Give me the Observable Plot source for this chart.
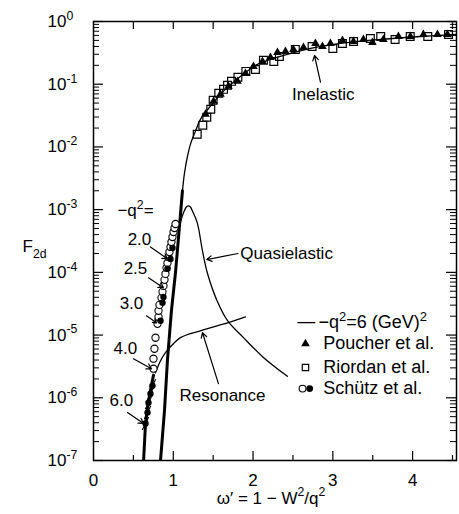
<!DOCTYPE html>
<html><head><meta charset="utf-8">
<script src="https://cdn.jsdelivr.net/npm/d3@7"></script>
<script src="https://cdn.jsdelivr.net/npm/@observablehq/plot@0.6"></script>
<style>
html,body{margin:0;padding:0;background:#fff;}
</style></head>
<body><div id="chart"></div>
<script>
// ---- axis ticks ----
const xMajor = [0, 1, 2, 3, 4];
const xMinor = [0.5, 1.5, 2.5, 3.5, 4.5];
const yMajor = [1e-7, 1e-6, 1e-5, 1e-4, 1e-3, 1e-2, 1e-1, 1];
const yTickLabels = ["10^{-7}", "10^{-6}", "10^{-5}", "10^{-4}", "10^{-3}", "10^{-2}", "10^{-1}", "10^{0}"];
const yMinor = d3.range(-7, 0).flatMap(e => d3.range(2, 10).map(m => m * Math.pow(10, e)));

// ---- theory curves (omega', F2d) ----
const totalCurve = [
  [0.840, 1.0e-7], [0.890, 6.3e-7], [0.927, 4.0e-6], [0.977, 2.45e-5], [1.028, 1.0e-4],
  [1.065, 3.5e-4], [1.115, 2.0e-3], [1.140, 3.8e-3], [1.178, 7.1e-3], [1.215, 0.011],
  [1.278, 0.0178], [1.340, 0.0275], [1.466, 0.0447], [1.630, 0.0776], [1.840, 0.133],
  [2.055, 0.207], [2.340, 0.277], [2.720, 0.372], [3.095, 0.447], [3.600, 0.518],
  [4.100, 0.577], [4.550, 0.621]
];
const quasiCurve = [
  [1.085, 6.0e-4], [1.128, 8.9e-4], [1.165, 1.1e-3], [1.190, 1.15e-3], [1.215, 1.1e-3],
  [1.240, 9.5e-4], [1.300, 6.2e-4], [1.366, 2.2e-4], [1.430, 9.5e-5], [1.550, 3.5e-5],
  [1.680, 1.7e-5], [1.880, 9.1e-6], [2.130, 4.4e-6], [2.430, 2.2e-6]
];
const resonanceCurve = [
  [0.777, 2.5e-6], [0.840, 3.9e-6], [0.900, 5.2e-6], [0.965, 6.5e-6], [1.090, 9.1e-6],
  [1.340, 1.17e-5], [1.720, 1.62e-5], [1.905, 1.95e-5]
];
const q6Curve = [
  [0.628, 1.0e-7], [0.652, 3.9e-7], [0.690, 8.9e-7], [0.714, 1.3e-6], [0.752, 2.3e-6]
];

// ---- data points ----
const poucher = [
  [1.404, 0.0332], [1.504, 0.0533], [1.591, 0.0690], [1.692, 0.0925], [1.805, 0.111],
  [1.905, 0.149], [2.005, 0.192], [2.118, 0.231], [2.218, 0.267], [2.306, 0.321],
  [2.406, 0.333], [2.506, 0.359], [2.632, 0.386], [2.782, 0.447], [2.870, 0.400],
  [2.970, 0.447], [3.120, 0.499], [3.258, 0.481], [3.383, 0.517], [3.496, 0.463],
  [3.634, 0.517], [3.822, 0.577], [3.972, 0.577], [4.135, 0.621], [4.311, 0.621], [4.436, 0.621]
];
const riordan = [
  [1.30, 0.0159], [1.37, 0.0222], [1.42, 0.0297], [1.47, 0.0398], [1.50, 0.0553],
  [1.57, 0.0716], [1.63, 0.0828], [1.68, 0.0959], [1.73, 0.111], [1.81, 0.129],
  [1.91, 0.160], [2.03, 0.172], [2.13, 0.240], [2.26, 0.231], [2.33, 0.277],
  [2.53, 0.359], [2.74, 0.400], [3.00, 0.372], [3.12, 0.447], [3.26, 0.481],
  [3.47, 0.537], [3.60, 0.577], [3.78, 0.517], [3.97, 0.577], [4.19, 0.577], [4.45, 0.621]
];
const schutzOpen = [
  [0.802, 1.51e-5], [0.815, 1.95e-5], [0.815, 2.44e-5], [0.827, 3.03e-5], [0.852, 3.92e-5],
  [0.865, 4.89e-5], [0.877, 6.08e-5], [0.890, 7.59e-5], [0.902, 9.44e-5], [0.915, 1.18e-4],
  [0.927, 1.41e-4], [0.940, 1.76e-4], [0.952, 2.11e-4], [0.965, 2.54e-4], [0.977, 3.05e-4],
  [0.990, 3.66e-4], [1.003, 4.40e-4], [1.015, 5.09e-4], [1.028, 5.90e-4],
  [0.777, 9.06e-6], [0.764, 6.05e-6], [0.752, 4.20e-6], [0.752, 2.91e-6]
];
const schutzFilled = [
  [0.840, 1.69e-5], [0.865, 3.27e-5], [0.877, 4.06e-5], [0.927, 1.14e-4],
  [0.965, 1.64e-4], [0.990, 2.45e-4]
];
const schutzFilled6 = [
  [0.652, 3.88e-7], [0.677, 5.81e-7], [0.689, 8.37e-7], [0.714, 1.16e-6], [0.739, 1.56e-6]
];

// ---- annotations ----
const annoText = [
  {label: "Inelastic", x: 2.88, y: 0.069, anchor: "middle"},
  {label: "Quasielastic", x: 1.84, y: 1.96e-4, anchor: "start"},
  {label: "Resonance", x: 1.617, y: 1.08e-6, anchor: "middle"},
  {label: "−q^{2}=", x: 0.30, y: 9.5e-4, anchor: "start"},
  {label: "2.0", x: 0.576, y: 3.34e-4, anchor: "middle"},
  {label: "2.5", x: 0.526, y: 1.13e-4, anchor: "middle"},
  {label: "3.0", x: 0.476, y: 3.15e-5, anchor: "middle"},
  {label: "4.0", x: 0.400, y: 6.05e-6, anchor: "middle"},
  {label: "6.0", x: 0.350, y: 9.0e-7, anchor: "middle"}
];
const annoArrows = [
  {x1: 2.845, y1: 0.108, x2: 2.77, y2: 0.287},
  {x1: 1.81, y1: 2.0e-4, x2: 1.42, y2: 1.6e-4},
  {x1: 1.566, y1: 1.68e-6, x2: 1.366, y2: 1.09e-5},
  {x1: 0.714, y1: 2.54e-4, x2: 0.927, y2: 1.64e-4},
  {x1: 0.689, y1: 8.2e-5, x2: 0.877, y2: 5.66e-5},
  {x1: 0.664, y1: 2.03e-5, x2: 0.79, y2: 1.57e-5},
  {x1: 0.50, y1: 4.2e-6, x2: 0.727, y2: 2.9e-6},
  {x1: 0.426, y1: 5.8e-7, x2: 0.627, y2: 3.9e-7}
];

// ---- legend ----
const legendLabels = ["−q^{2}=6 (GeV)^{2}", "Poucher et al.", "Riordan et al.", "Schütz et al."];
const legendY = [1.58e-5, 7.3e-6, 3.04e-6, 1.4e-6];
const legendTextX = [2.82, 2.88, 2.88, 2.88];
const legendLine = [{x1: 2.556, x2: 2.78, y: 1.58e-5}];
const legendTriangle = [[2.657, 7.3e-6]];
const legendSquare = [[2.657, 3.04e-6]];
const legendOpen = [[2.62, 1.4e-6]];
const legendFilled = [[2.71, 1.4e-6]];

// ---- layout ----
const W = 459, H = 514, mL = 93, mR = 3, mT = 21, mB = 54;
const pw = W - mL - mR, ph = H - mT - mB;
const K = "black";
const slash = {draw(ctx, size) { const r = Math.sqrt(size / Math.PI); ctx.moveTo(-0.5 * r, r); ctx.lineTo(0.5 * r, -r); }};

const plot = Plot.plot({
  width: W, height: H,
  marginLeft: mL, marginRight: mR, marginTop: mT, marginBottom: mB,
  x: {domain: [0, 4.55]},
  y: {type: "log", domain: [1e-7, 1]},
  style: {fontFamily: "'Liberation Sans', Arial, sans-serif", fontSize: "17px", color: K, background: "white"},
  marks: [
    // ticks (inward)
    Plot.tickY(yMajor, {y: d => d, insetRight: pw - 10, stroke: K, strokeWidth: 1.2}),
    Plot.tickY(yMajor, {y: d => d, insetLeft: pw - 10, stroke: K, strokeWidth: 1.2}),
    Plot.tickY(yMinor, {y: d => d, insetRight: pw - 6, stroke: K, strokeWidth: 1}),
    Plot.tickY(yMinor, {y: d => d, insetLeft: pw - 6, stroke: K, strokeWidth: 1}),
    Plot.tickX(xMajor.slice(1), {x: d => d, insetTop: ph - 9, stroke: K, strokeWidth: 1.2}),
    Plot.tickX(xMinor, {x: d => d, insetTop: ph - 5, stroke: K, strokeWidth: 1.2}),
    Plot.tickX([...xMajor.slice(1), ...xMinor], {x: d => d, insetBottom: ph - 8, stroke: K, strokeWidth: 1.2}),
    Plot.axisY(yMajor, {anchor: "left", tickSize: 0, tickPadding: 46, textAnchor: "start", tickFormat: d => yTickLabels[yMajor.indexOf(d)], label: null, fontSize: 17}),
    Plot.axisX(xMajor, {anchor: "bottom", tickSize: 0, tickPadding: 13, label: null, fontSize: 17}),
    Plot.frame({stroke: K, strokeWidth: 1.5}),
    // curves
    Plot.line(totalCurve, {x: d => d[0], y: d => d[1], stroke: K, strokeWidth: 1.3, curve: "catmull-rom", clip: true}),
    Plot.line(totalCurve.filter(d => d[1] <= 2.2e-3), {x: d => d[0], y: d => d[1], stroke: K, strokeWidth: 3, clip: true}),
    Plot.line(quasiCurve, {x: d => d[0], y: d => d[1], stroke: K, strokeWidth: 1.3, curve: "catmull-rom"}),
    Plot.line(resonanceCurve, {x: d => d[0], y: d => d[1], stroke: K, strokeWidth: 1.3, curve: "catmull-rom"}),
    Plot.line(q6Curve, {x: d => d[0], y: d => d[1], stroke: K, strokeWidth: 3, clip: true}),
    // points
    Plot.dot(poucher, {x: d => d[0], y: d => d[1], symbol: "triangle", r: 3.2, fill: K, stroke: "none"}),
    Plot.dot(riordan, {x: d => d[0], y: d => d[1], symbol: "square", r: 4.4, fill: "none", stroke: K, strokeWidth: 1.2}),
    Plot.dot(schutzOpen, {x: d => d[0], y: d => d[1], symbol: "circle", r: 3.6, fill: "white", stroke: K, strokeWidth: 1.1}),
    Plot.dot(schutzFilled, {x: d => d[0], y: d => d[1], symbol: "circle", r: 3.2, fill: K}),
    Plot.dot(schutzFilled6, {x: d => d[0], y: d => d[1], symbol: "circle", r: 3.2, fill: K}),
    Plot.dot(schutzFilled6, {x: d => d[0], y: d => d[1], symbol: slash, r: 6.5, stroke: K, strokeWidth: 1.1, fill: "none"}),
    // annotations
    Plot.arrow(annoArrows, {x1: "x1", y1: "y1", x2: "x2", y2: "y2", stroke: K, strokeWidth: 1.2, headLength: 7}),
    Plot.text(annoText.filter(d => d.anchor === "middle"), {x: "x", y: "y", text: "label", textAnchor: "middle", fill: K, fontSize: 17}),
    Plot.text(annoText.filter(d => d.anchor === "start"), {x: "x", y: "y", text: "label", textAnchor: "start", fill: K, fontSize: 17}),
    // legend
    Plot.link(legendLine, {x1: "x1", x2: "x2", y1: "y", y2: "y", stroke: K, strokeWidth: 1.3}),
    Plot.dot(legendTriangle, {x: d => d[0], y: d => d[1], symbol: "triangle", r: 3.2, fill: K}),
    Plot.dot(legendSquare, {x: d => d[0], y: d => d[1], symbol: "square", r: 3.6, fill: "none", stroke: K, strokeWidth: 1.2}),
    Plot.dot(legendOpen, {x: d => d[0], y: d => d[1], symbol: "circle", r: 3.4, fill: "white", stroke: K, strokeWidth: 1.1}),
    Plot.dot(legendFilled, {x: d => d[0], y: d => d[1], symbol: "circle", r: 3.4, fill: K}),
    Plot.text(legendLabels, {x: (d, i) => legendTextX[i], y: (d, i) => legendY[i], text: d => d, textAnchor: "start", fill: K, fontSize: 18}),
    // axis titles
    Plot.text(["F_{2d}"], {frameAnchor: "left", dx: -71, dy: 6, textAnchor: "start", fill: K, fontSize: 17}),
    Plot.text(["ω′ = 1 − W^{2}/q^{2}"], {frameAnchor: "bottom", dy: 43, dx: -4, textAnchor: "middle", fill: K, fontSize: 17})
  ]
});
document.getElementById("chart").appendChild(plot);

// rich text: ^{...} superscripts, _{...} subscripts
function richify(root) {
  root.querySelectorAll("text").forEach(t => {
    if (t.querySelector("tspan")) return;
    const s = t.textContent;
    if (!/[\^_]\{/.test(s)) return;
    const fs = parseFloat(getComputedStyle(t).fontSize) || 17;
    t.textContent = "";
    const re = /([\^_])\{([^}]*)\}/g;
    let last = 0, m, shift = 0;
    const add = (str, kind) => {
      if (!str) return;
      const ts = document.createElementNS("http://www.w3.org/2000/svg", "tspan");
      const target = kind === "sup" ? -0.42 * fs : kind === "sub" ? 0.3 * fs : 0;
      const dy = target - shift; shift = target;
      if (dy) ts.setAttribute("dy", dy);
      if (kind) ts.setAttribute("font-size", 0.72 * fs);
      ts.textContent = str;
      t.appendChild(ts);
    };
    while ((m = re.exec(s))) { add(s.slice(last, m.index), null); add(m[2], m[1] === "^" ? "sup" : "sub"); last = re.lastIndex; }
    add(s.slice(last), null);
  });
}
richify(plot);
</script>
</body></html>
